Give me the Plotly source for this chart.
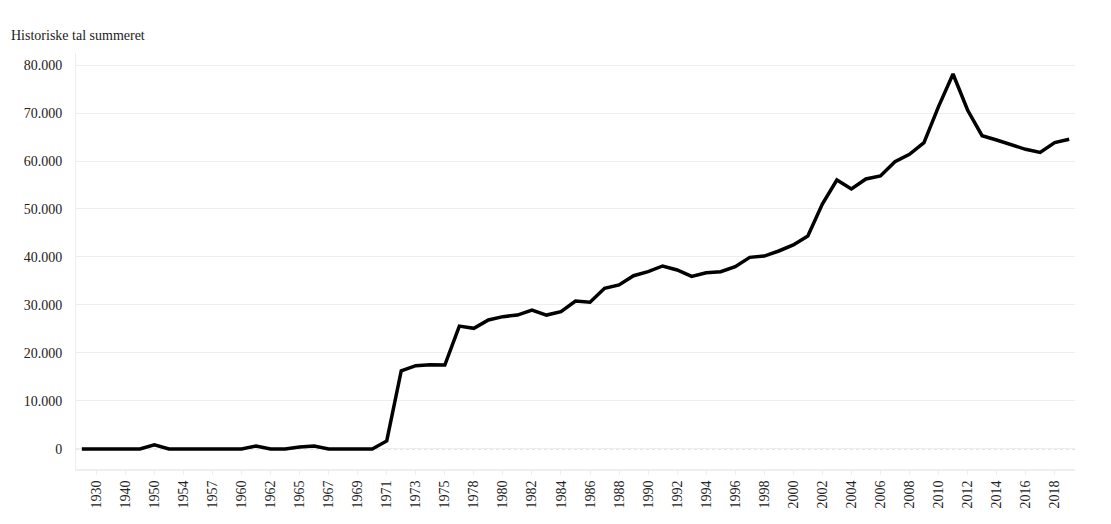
import plotly.graph_objects as go

years = ["1920", "1930", "1935", "1940", "1945", "1950", "1952", "1954", "1955", "1957",
         "1958", "1960", "1961", "1962", "1963", "1965", "1966", "1967", "1968", "1969",
         "1970", "1971", "1972", "1973", "1974", "1975", "1976", "1978", "1979", "1980",
         "1981", "1982", "1983", "1984", "1985", "1986", "1987", "1988", "1989", "1990",
         "1991", "1992", "1993", "1994", "1995", "1996", "1997", "1998", "1999", "2000",
         "2001", "2002", "2003", "2004", "2005", "2006", "2007", "2008", "2009", "2010",
         "2011", "2012", "2013", "2014", "2015", "2016", "2017", "2018", "2019"]

values = [0, 0, 0, 0, 0, 850, 0, 0, 0, 0,
          0, 0, 630, 0, 0, 400, 600, 0, 0, 0,
          0, 1670, 16300, 17350, 17560, 17500, 25600, 25140, 26870, 27570,
          27900, 28960, 27900, 28600, 30830, 30560, 33470, 34170, 36100, 36940,
          38125, 37290, 35950, 36730, 36940, 37980, 39930, 40200, 41250, 42500,
          44375, 51040, 56040, 54170, 56250, 56875, 59860, 61390, 63820, 71320,
          78125, 70625, 65270, 64375, 63330, 62430, 61800, 63820, 64520]

title_text = "Historiske tal summeret"
tick_years = years[1::2]

fig = go.Figure()
fig.add_trace(go.Scatter(
    x=years, y=values, mode="lines",
    line=dict(color="black", width=3.5),
    hoverinfo="x+y", showlegend=False,
))

fig.add_hline(y=0, line=dict(color="#c8c8c8", width=1, dash="dot"), layer="below")

fig.update_layout(
    width=1111, height=524,
    margin=dict(l=68, r=44, t=45, b=63),
    paper_bgcolor="white", plot_bgcolor="white",
    font=dict(family="Liberation Serif, Times New Roman, serif", size=14, color="#222"),
    separators=",.",
    title=dict(text=title_text, x=3 / 1111, xref="container", xanchor="left",
               y=1 - 27 / 524, yanchor="middle", yref="container",
               font=dict(size=14, color="#222")),
    xaxis=dict(type="category", range=[-0.4, 68.4], tickmode="array",
               tickvals=tick_years, ticktext=tick_years, tickangle=-90,
               showgrid=False, showline=True, linecolor="#eeeeee", linewidth=2,
               ticks="outside", ticklen=4, tickcolor="#eeeeee",
               tickfont=dict(size=14, color="#222")),
    yaxis=dict(range=[-4170, 82500], dtick=10000, tick0=0, tickformat=",.0f",
               showgrid=True, gridcolor="#eeeeee", gridwidth=1,
               zeroline=False, showline=True, linecolor="#eeeeee", linewidth=1,
               ticks="", ticklabelstandoff=10,
               tickfont=dict(size=14, color="#222")),
)

fig.write_html("out.html")
